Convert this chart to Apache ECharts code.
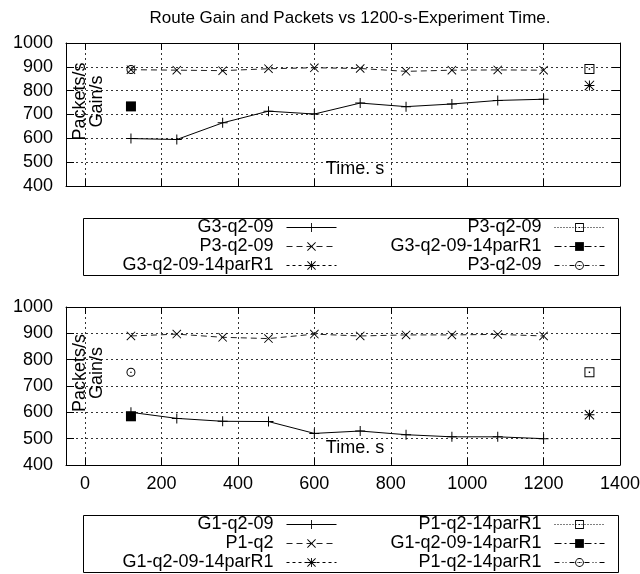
<!DOCTYPE html>
<html>
<head>
<meta charset="utf-8">
<script src="https://cdn.jsdelivr.net/npm/echarts@6/dist/echarts.min.js"></script>
<style>
html, body { margin: 0; padding: 0; background: #fff; }
#chart { width: 640px; height: 574px; }
</style>
</head>
<body>
<div id="chart"></div>
<script>
// Sampling instants of the 1200 s experiment (s)
const times = [120, 240, 360, 480, 600, 720, 840, 960, 1080, 1200];
const xTicks = [0, 200, 400, 600, 800, 1000, 1200, 1400];

// Upper panel
const g3q209 = [599, 595, 665, 714, 702, 748, 733, 744, 759, 764];
const p3q209 = [888, 886, 884, 892, 896, 893, 881, 886, 887, 886];
const p3q209Square = [[1320, 891]];
const g3q20914parR1Star = [[1320, 822]];
const g3q20914parR1Box = [[120, 734]];
const p3q209Circle = [[120, 889]];

// Lower panel
const g1q209 = [600, 577, 566, 565, 520, 529, 515, 507, 507, 500];
const p1q2 = [890, 897, 885, 880, 897, 890, 894, 894, 896, 890];
const p1q214parR1Square = [[1320, 752]];
const g1q20914parR1Star = [[1320, 591]];
const g1q20914parR1Box = [[120, 585]];
const p1q214parR1Circle = [[120, 752]];

const FONT = 'Liberation Sans, Arial, Helvetica, sans-serif';

// Point glyphs drawn on a 10x10 box
const PLUS = 'path://M4.5,0h1v10h-1z M0,4.5h10v1h-10z';
const CROSS = 'path://M0,0.7L0.7,0L10,9.3L9.3,10Z M10,0.7L0.7,10L0,9.3L9.3,0Z';
const STAR = 'path://M4.5,0h1v10h-1z M0,4.5h10v1h-10z M0,0.7L0.7,0L10,9.3L9.3,10Z M10,0.7L0.7,10L0,9.3L9.3,0Z';
const BOX_DOT = 'path://M0,0H10V10H0Z M1,1V9H9V1Z M4.3,4.3H5.7V5.7H4.3Z';
const RING_DOT = 'path://M5,0A5,5,0,1,1,5,10A5,5,0,1,1,5,0Z M5,1.1A3.9,3.9,0,1,0,5,8.9A3.9,3.9,0,1,0,5,1.1Z M4.3,4.3H5.7V5.7H4.3Z';

// Line patterns
const SOLID = 'solid';
const DASH = [6, 4];
const SHORT_DASH = [3, 3];
const DOTS = [1, 2];
const DASH_DOT = [7, 3, 2, 3];
const DASH_DOT_DOT = [5, 3, 1, 2, 1, 3];

// Series keys -> legend text
const labels = {};
const series = [];

function pairs(vals) { return times.map((t, i) => [t, vals[i]]); }

function addSeries(key, label, data, symbol, size, dash, panel, color) {
  labels[key] = label;
  series.push({
    name: key,
    type: 'line',
    xAxisIndex: panel * 2,
    yAxisIndex: panel * 2,
    data: data,
    symbol: symbol,
    symbolSize: size,
    showSymbol: true,
    showAllSymbol: true,
    silent: true,
    animation: false,
    itemStyle: { color: '#000', borderWidth: 0 },
    lineStyle: { color: color || '#000', width: 1, type: dash },
    emphasis: { disabled: true }
  });
}

addSeries('t1', 'G3-q2-09', pairs(g3q209), PLUS, 10, SOLID, 0);
addSeries('t2', 'P3-q2-09', pairs(p3q209), CROSS, 9, DASH, 0, '#222');
addSeries('t3', 'G3-q2-09-14parR1', g3q20914parR1Star, STAR, 10, SHORT_DASH, 0);
addSeries('t4', 'P3-q2-09', p3q209Square, BOX_DOT, 10, DOTS, 0);
addSeries('t5', 'G3-q2-09-14parR1', g3q20914parR1Box, 'rect', 10, DASH_DOT, 0);
addSeries('t6', 'P3-q2-09', p3q209Circle, RING_DOT, 9, DASH_DOT_DOT, 0);

addSeries('b1', 'G1-q2-09', pairs(g1q209), PLUS, 10, SOLID, 1);
addSeries('b2', 'P1-q2', pairs(p1q2), CROSS, 9, DASH, 1, '#222');
addSeries('b3', 'G1-q2-09-14parR1', g1q20914parR1Star, STAR, 10, SHORT_DASH, 1);
addSeries('b4', 'P1-q2-14parR1', p1q214parR1Square, BOX_DOT, 10, DOTS, 1);
addSeries('b5', 'G1-q2-09-14parR1', g1q20914parR1Box, 'rect', 10, DASH_DOT, 1);
addSeries('b6', 'P1-q2-14parR1', p1q214parR1Circle, RING_DOT, 9, DASH_DOT_DOT, 1);

// Key layout: two columns, text right-aligned before the line sample
const colRight = [337, 605];
const keyRows = [[227.5, 246.5, 265.5], [524.5, 543.5, 562.5]];
const keyOrder = [['t1', 't2', 't3', 't4', 't5', 't6'], ['b1', 'b2', 'b3', 'b4', 'b5', 'b6']];

const legends = [];
keyOrder.forEach((keys, panel) => {
  keys.forEach((key, i) => {
    const col = Math.floor(i / 3);
    const row = i % 3;
    legends.push({
      data: [key],
      formatter: name => labels[name],
      selectedMode: false,
      orient: 'horizontal',
      align: 'right',
      right: 640 - colRight[col],
      top: keyRows[panel][row] - 10,
      padding: 0,
      itemWidth: 50,
      itemHeight: 11,
      itemStyle: { borderWidth: 0 },
      lineStyle: { width: 1 },
      textStyle: { fontFamily: FONT, fontSize: 18, color: '#000', lineHeight: 20, padding: [0, 8, 0, 0] }
    });
  });
});

const axisLineStyle = { show: true, onZero: false, lineStyle: { color: '#000', width: 1 } };
const gridLineStyle = { show: true, lineStyle: { color: '#333', width: 1, type: [2, 3] } };
const plainNumber = v => String(v);

function xAxesFor(gridIndex, withLabels) {
  return [{
    type: 'value', gridIndex, position: 'bottom', min: -50, max: 1400,
    name: 'Time. s', nameLocation: 'middle', nameGap: -26, nameMoveOverlap: false,
    nameTextStyle: { fontFamily: FONT, fontSize: 18, color: '#000', padding: [0, 0, 0, 24] },
    axisLine: axisLineStyle,
    axisTick: { show: true, inside: true, length: 7, customValues: xTicks, lineStyle: { color: '#000' } },
    axisLabel: { show: withLabels, customValues: xTicks, formatter: plainNumber, margin: 10, fontFamily: FONT, fontSize: 18, color: '#000' },
    splitLine: gridLineStyle
  }, {
    type: 'value', gridIndex, position: 'top', min: -50, max: 1400,
    axisLine: axisLineStyle,
    axisTick: { show: true, inside: true, length: 7, customValues: xTicks, lineStyle: { color: '#000' } },
    axisLabel: { show: false },
    splitLine: { show: false }
  }];
}

function yAxesFor(gridIndex) {
  return [{
    type: 'value', gridIndex, position: 'left', min: 400, max: 1000, interval: 100,
    name: 'Packets/s\nGain/s', nameLocation: 'middle', nameRotate: 90, nameGap: -40, nameMoveOverlap: false,
    nameTextStyle: { fontFamily: FONT, fontSize: 18, color: '#000', lineHeight: 17, align: 'center', padding: [0, 0, 0, 26] },
    axisLine: axisLineStyle,
    axisTick: { show: true, inside: true, length: 8, lineStyle: { color: '#000' } },
    axisLabel: { margin: 13, formatter: plainNumber, fontFamily: FONT, fontSize: 18, color: '#000' },
    splitLine: gridLineStyle
  }, {
    type: 'value', gridIndex, position: 'right', min: 400, max: 1000, interval: 100,
    axisLine: axisLineStyle,
    axisTick: { show: true, inside: true, length: 8, lineStyle: { color: '#000' } },
    axisLabel: { show: false },
    splitLine: { show: false }
  }];
}

const chart = echarts.init(document.getElementById('chart'), null, { renderer: 'canvas' });
chart.setOption({
  animation: false,
  backgroundColor: '#fff',
  title: {
    text: 'Route Gain and Packets vs 1200-s-Experiment Time.',
    left: 345, textAlign: 'center', top: 5,
    textStyle: { fontFamily: FONT, fontSize: 17, fontWeight: 'normal', color: '#000' }
  },
  grid: [
    { left: 66, top: 43, width: 554, height: 143, outerBoundsMode: 'none', containLabel: false },
    { left: 66, top: 307, width: 554, height: 158, outerBoundsMode: 'none', containLabel: false }
  ],
  xAxis: [...xAxesFor(0, false), ...xAxesFor(1, true)],
  yAxis: [...yAxesFor(0), ...yAxesFor(1)],
  legend: legends,
  graphic: [
    { type: 'rect', shape: { x: 83.5, y: 218.5, width: 535, height: 57 }, style: { fill: 'none', stroke: '#000', lineWidth: 1 }, silent: true },
    { type: 'rect', shape: { x: 83.5, y: 515.5, width: 535, height: 57 }, style: { fill: 'none', stroke: '#000', lineWidth: 1 }, silent: true }
  ],
  series: series
});
</script>
</body>
</html>
